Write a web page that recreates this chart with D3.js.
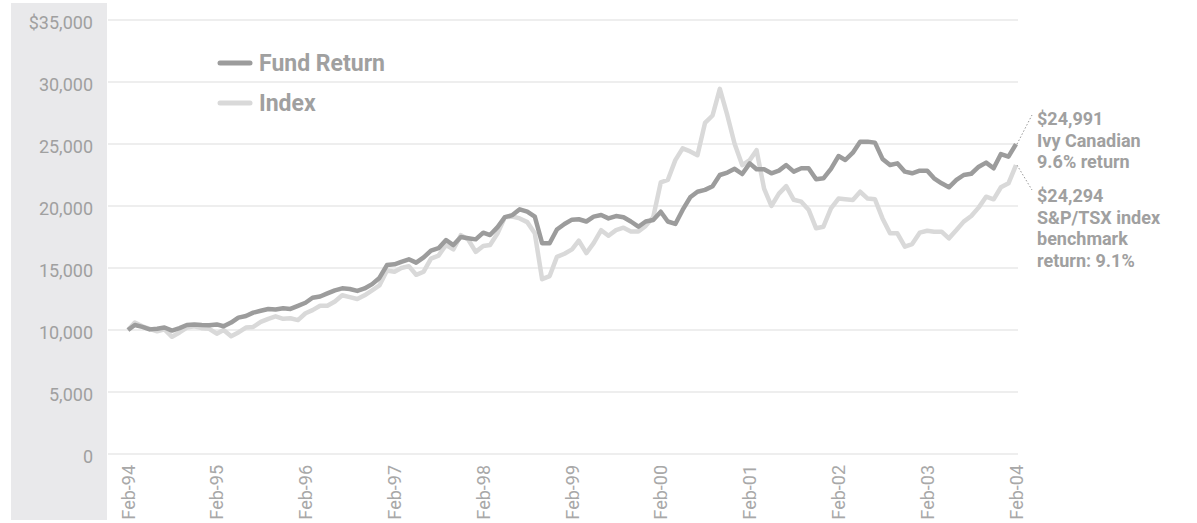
<!DOCTYPE html>
<html>
<head>
    <title>Ivy Canadian vs S&amp;P/TSX</title>
    <script src="https://d3js.org/d3.v7.min.js"></script>
    <style>
        body { margin: 0; background: #fff; }
        text { font-family: Roboto, "Liberation Sans", sans-serif; }
    </style>
</head>
<body>
<script>
    var w = 1197;
    var h = 523;

    // monthly values, Feb-94 .. Feb-04 (121 months)
    var fundReturn = [
        10000, 10400, 10250, 10050, 10100, 10200, 9950, 10150, 10400, 10450, 10400, 10380,
        10450, 10300, 10600, 11000, 11130, 11400, 11550, 11690, 11650, 11750, 11700, 11950,
        12200, 12600, 12700, 12950, 13200, 13360, 13310, 13150, 13350, 13700, 14200, 15240,
        15300, 15500, 15700, 15430, 15850, 16400, 16600, 17260, 16850, 17500, 17400, 17310,
        17850, 17660, 18300, 19100, 19270, 19730, 19550, 19140, 17000, 17000, 18100, 18550,
        18900, 18930, 18750, 19140, 19270, 19000, 19190, 19090, 18750, 18330, 18750, 18870,
        19540, 18750, 18550, 19680, 20700, 21150, 21300, 21600, 22500, 22700, 23000, 22580,
        23440, 22960, 22960, 22640, 22850, 23300, 22770, 23040, 23040, 22150, 22230, 23000,
        24030, 23710, 24300, 25190, 25190, 25110, 23800, 23310, 23440, 22770, 22640, 22850,
        22850, 22230, 21830, 21510, 22100, 22500, 22600, 23170, 23500, 23040, 24190, 23980,
        24991
    ];
    var indexReturn = [
        10000, 10600, 10300, 10100, 9900, 10050, 9450, 9800, 10200, 10300, 10150, 10100,
        9700, 10000, 9500, 9800, 10200, 10250, 10650, 10900, 11100, 10900, 10950, 10800,
        11350, 11600, 11950, 11950, 12300, 12800, 12650, 12500, 12800, 13200, 13600, 14800,
        14700, 15000, 15150, 14450, 14700, 15750, 16000, 16850, 16500, 17650, 17300, 16300,
        16770, 16850, 17800, 19100, 19150, 19000, 18700, 17800, 14100, 14350, 15900, 16150,
        16500, 17200, 16200, 17000, 18050, 17600, 18050, 18250, 17950, 17950, 18400, 19100,
        21900, 22100, 23700, 24650, 24400, 24100, 26700, 27300, 29450, 27300, 25000, 23300,
        23700, 24500, 21400, 20000, 21000, 21600, 20500, 20350, 19700, 18200, 18330, 19800,
        20600, 20540, 20480, 21150, 20600, 20540, 19000, 17800, 17800, 16720, 16930, 17850,
        18000, 17930, 17930, 17390, 18060, 18740, 19190, 19890, 20750, 20540, 21510, 21830,
        23300
    ];
    var yTicks = [0, 5000, 10000, 15000, 20000, 25000, 30000, 35000];
    var yTickLabels = ["0", "5,000", "10,000", "15,000", "20,000", "25,000", "30,000", "$35,000"];
    var xTickLabels = ["Feb-94", "Feb-95", "Feb-96", "Feb-97", "Feb-98", "Feb-99",
                       "Feb-00", "Feb-01", "Feb-02", "Feb-03", "Feb-04"];
    var seriesNames = ["Fund Return", "Index"];
    var fundNote = ["$24,991", "Ivy Canadian", "9.6% return"];
    var indexNote = ["$24,294", "S&P/TSX index", "benchmark", "return: 9.1%"];

    var fundColor = "#9c9c9c";
    var indexColor = "#d9d9d9";
    var textColor = "#a0a0a0";

    var months = d3.range(fundReturn.length).map(function(i){ return new Date(1994, 1 + i, 1); });

    var xScale = d3.scaleTime()
                   .domain([months[0], months[months.length - 1]])
                   .range([128, 1016]);
    var yScale = d3.scaleLinear()
                   .domain([0, 35000])
                   .range([454, 20]);

    var svg = d3.select("body")
                .append("svg")
                .attr("width", w)
                .attr("height", h);

    // grey band behind y labels
    svg.append("rect")
       .attr("x", 11).attr("y", 3)
       .attr("width", 96).attr("height", 517)
       .attr("fill", "#e9e9eb");

    // gridlines
    svg.append("g")
       .selectAll("line")
       .data(yTicks)
       .enter()
       .append("line")
       .attr("x1", 108).attr("x2", 1018)
       .attr("y1", function(d){ return yScale(d); })
       .attr("y2", function(d){ return yScale(d); })
       .attr("stroke", "#e8e8e8")
       .attr("stroke-width", 1.5);

    // y axis labels
    var yAxis = d3.axisLeft(yScale)
                  .tickValues(yTicks)
                  .tickSize(0)
                  .tickPadding(0)
                  .tickFormat(function(d, i){ return yTickLabels[i]; });
    var yg = svg.append("g")
                .attr("transform", "translate(93,0)")
                .call(yAxis);
    yg.select(".domain").remove();
    yg.selectAll("text")
      .attr("dy", null)
      .attr("y", 8)
      .attr("font-family", "Roboto, sans-serif")
      .attr("font-weight", 400)
      .attr("font-size", "18px")
      .attr("fill", textColor);

    // x axis labels
    var xAxis = d3.axisBottom(xScale)
                  .tickValues(xTickLabels.map(function(d, i){ return new Date(1994 + i, 1, 1); }))
                  .tickSize(0)
                  .tickPadding(0)
                  .tickFormat(function(d, i){ return xTickLabels[i]; });
    var xg = svg.append("g")
                .attr("transform", "translate(0,465)")
                .call(xAxis);
    xg.select(".domain").remove();
    xg.selectAll("text")
      .attr("transform", "rotate(-90)")
      .attr("text-anchor", "end")
      .attr("x", 0)
      .attr("y", 6)
      .attr("dy", null)
      .attr("font-family", "Roboto, sans-serif")
      .attr("font-weight", 400)
      .attr("font-size", "18px")
      .attr("fill", "#a8a8a8");

    // lines
    var line = d3.line()
                 .x(function(d, i){ return xScale(months[i]); })
                 .y(function(d){ return yScale(d); });
    svg.append("path")
       .datum(indexReturn)
       .attr("d", line)
       .attr("fill", "none")
       .attr("stroke", indexColor)
       .attr("stroke-width", 4.5)
       .attr("stroke-linejoin", "round");
    svg.append("path")
       .datum(fundReturn)
       .attr("d", line)
       .attr("fill", "none")
       .attr("stroke", fundColor)
       .attr("stroke-width", 4.5)
       .attr("stroke-linejoin", "round");

    // legend
    var legend = svg.append("g").selectAll("g")
                    .data(seriesNames)
                    .enter()
                    .append("g")
                    .attr("transform", function(d, i){ return "translate(220," + (63 + i * 40) + ")"; });
    legend.append("line")
          .attr("x1", 0).attr("x2", 30)
          .attr("stroke", function(d, i){ return i == 0 ? fundColor : indexColor; })
          .attr("stroke-width", 5)
          .attr("stroke-linecap", "round");
    legend.append("text")
          .text(function(d){ return d; })
          .attr("x", 39)
          .attr("y", 8)
          .attr("font-size", "23px")
          .attr("font-weight", "bold")
          .attr("fill", textColor);

    // end notes
    var endX = xScale(months[months.length - 1]);
    function note(lines, y0, value, ly) {
        svg.append("line")
           .attr("x1", endX + 1).attr("y1", yScale(value))
           .attr("x2", 1032).attr("y2", ly)
           .attr("stroke", "#999")
           .attr("stroke-width", 1)
           .attr("stroke-dasharray", "1.5,2");
        svg.append("g").selectAll("text")
           .data(lines)
           .enter()
           .append("text")
           .text(function(d){ return d; })
           .attr("x", 1037)
           .attr("y", function(d, i){ return y0 + i * 21.5; })
           .attr("font-size", "18px")
           .attr("font-weight", "bold")
           .attr("fill", textColor);
    }
    note(fundNote, 125, fundReturn[fundReturn.length - 1], 115);
    note(indexNote, 202, indexReturn[indexReturn.length - 1], 190);
</script>
</body>
</html>
